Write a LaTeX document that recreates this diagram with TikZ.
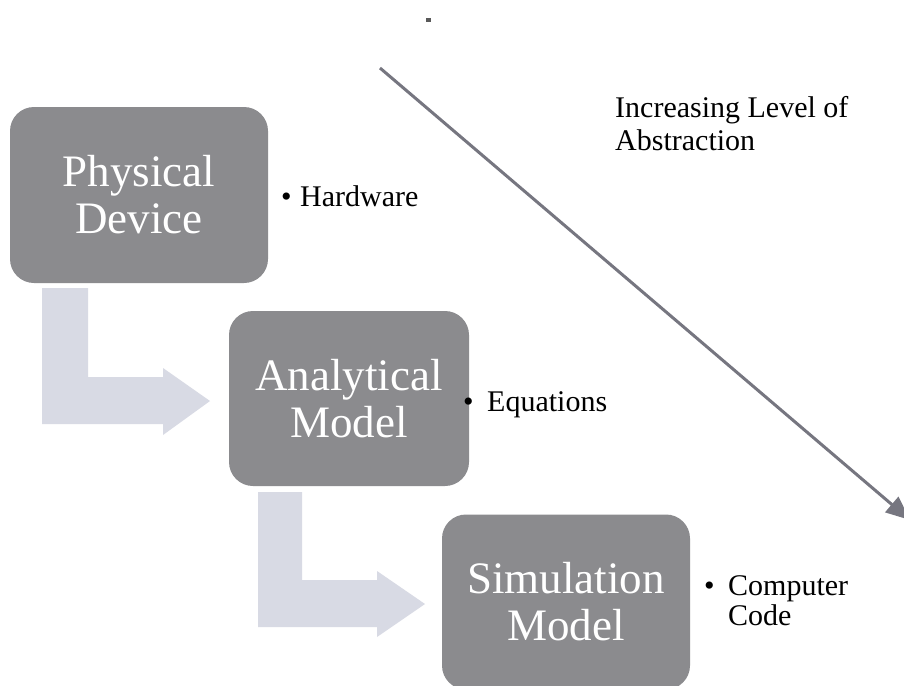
\documentclass[tikz,border=0pt]{standalone}
\usepackage{fontspec}
\setmainfont{Liberation Serif}
\usetikzlibrary{arrows.meta}
\definecolor{boxgray}{RGB}{139,139,142}
\definecolor{flowgray}{RGB}{216,218,228}
\definecolor{linegray}{RGB}{118,118,128}
\tikzset{
  stage/.style={fill=boxgray, rounded corners=24pt, inner sep=0pt, align=center,
    text=white, font=\fontsize{45}{47}\selectfont},
  note/.style={anchor=base west, inner sep=0pt, font=\fontsize{30}{35}\selectfont},
  flow/.style={fill=flowgray, draw=none},
}
\begin{document}
\begin{tikzpicture}[x=1pt,y=-1pt]
\useasboundingbox (0,0) rectangle (904,685);
\fill[white] (0,0) rectangle (904,685);

% process stages
\node[stage, minimum width=258pt, minimum height=176pt] (phys) at (139,195) {Physical\\Device};
\node[stage, minimum width=240pt, minimum height=175pt] (anal) at (349,398.5) {Analytical\\Model};
\node[stage, minimum width=248pt, minimum height=175pt] (sim) at (566,602) {Simulation\\Model};

% L-shaped block arrows between stages
\fill[flow] (42,288) -- (88,288) -- (88,377) -- (163,377) -- (163,368) -- (210,401)
  -- (163,435) -- (163,424) -- (42,424) -- cycle;
\fill[flow] (258,492) -- (302,492) -- (302,580) -- (377,580) -- (377,571) -- (425,604)
  -- (377,637) -- (377,627) -- (258,627) -- cycle;

% side notes
\node[note] (bh) at (281,206) {\textbullet};
\node[note] (th) at (300,206) {Hardware};
\node[note] (be) at (463,411) {\textbullet};
\node[note] (te) at (487,411) {Equations};
\node[note] (bc) at (704,595) {\textbullet};
\node[note] (tc1) at (728,595) {Computer};
\node[note] (tc2) at (728,625) {Code};

% abstraction axis
\coordinate (astart) at (380,68);
\coordinate (aend) at (910,520);
\draw[linegray, line width=3pt, -{Triangle[length=24pt,width=20pt]}] (astart) -- (aend);
\node[note] (abs1) at (615,117) {Increasing Level of};
\node[note] (abs2) at (615,150) {Abstraction};

% small mark near the top
\fill[gray!70!black] (426,18) rectangle (431,22);
\end{tikzpicture}
\end{document}
